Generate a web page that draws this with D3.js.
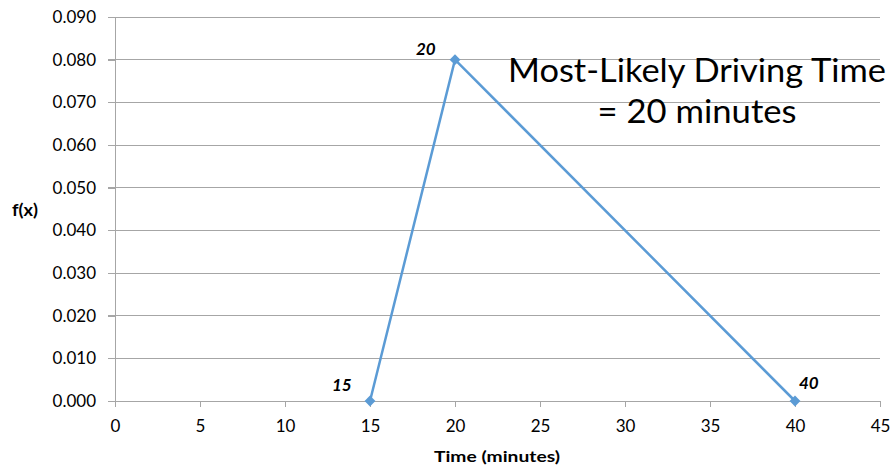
<!DOCTYPE html>
<html>
<head>
<meta charset="utf-8">
<script src="https://cdn.jsdelivr.net/npm/d3@7"></script>
<style>
  html, body { margin: 0; padding: 0; background: #fff; }
  svg { display: block; }
</style>
</head>
<body>
<svg id="chart" width="891" height="466"></svg>
<script>
// Triangular distribution of driving time
const timeValues = [15, 20, 40];
const densityValues = [0.000, 0.080, 0.000];
const pointLabels = ["15", "20", "40"];
const xTicks = [0, 5, 10, 15, 20, 25, 30, 35, 40, 45];
const yTicks = [0, 0.01, 0.02, 0.03, 0.04, 0.05, 0.06, 0.07, 0.08, 0.09];

const svg = d3.select("#chart");
const plotLeft = 115, plotRight = 880, plotTop = 17, plotBottom = 401;
const fontFam = "Lato, 'Open Sans', 'Liberation Sans', sans-serif";

const x = d3.scaleLinear().domain([0, 45]).range([plotLeft, plotRight]);
const y = d3.scaleLinear().domain([0, 0.09]).range([plotBottom, plotTop]);

// horizontal gridlines
svg.append("g")
  .selectAll("line")
  .data(yTicks)
  .join("line")
  .attr("x1", plotLeft - 7).attr("x2", plotRight)
  .attr("y1", d => y(d)).attr("y2", d => y(d))
  .attr("stroke", "#a6a6a6").attr("stroke-width", 1)
  .attr("shape-rendering", "crispEdges");

// y axis
const yAxis = svg.append("g")
  .attr("transform", `translate(${plotLeft},0)`)
  .call(d3.axisLeft(y).tickValues(yTicks).tickFormat(d3.format(".3f")).tickSize(7).tickPadding(12));
yAxis.select(".domain").attr("stroke", "#a6a6a6").attr("shape-rendering", "crispEdges");
yAxis.selectAll(".tick line").attr("stroke", "#a6a6a6").attr("shape-rendering", "crispEdges");
yAxis.selectAll("text").attr("font-family", fontFam).attr("font-size", 17).attr("fill", "#000");

// x axis
const xAxis = svg.append("g")
  .attr("transform", `translate(0,${plotBottom})`)
  .call(d3.axisBottom(x).tickValues(xTicks).tickFormat(d3.format("d")).tickSize(6).tickPadding(13));
xAxis.select(".domain").attr("stroke", "#a6a6a6").attr("shape-rendering", "crispEdges");
xAxis.selectAll(".tick line").attr("stroke", "#a6a6a6").attr("shape-rendering", "crispEdges");
xAxis.selectAll("text").attr("font-family", fontFam).attr("font-size", 17).attr("fill", "#000");

// axis titles
svg.append("text")
  .attr("x", 497).attr("y", 462)
  .attr("text-anchor", "middle")
  .attr("font-family", fontFam).attr("font-size", 16).attr("font-weight", "bold")
  .attr("textLength", 126).attr("lengthAdjust", "spacingAndGlyphs")
  .text("Time (minutes)");
svg.append("text")
  .attr("x", 25).attr("y", 216)
  .attr("text-anchor", "middle")
  .attr("font-family", fontFam).attr("font-size", 17).attr("font-weight", "bold")
  .attr("textLength", 26).attr("lengthAdjust", "spacingAndGlyphs")
  .text("f(x)");

// density line
const pts = timeValues.map((t, i) => ({ t, f: densityValues[i], label: pointLabels[i] }));
svg.append("path")
  .datum(pts)
  .attr("fill", "none")
  .attr("stroke", "#5b9bd5")
  .attr("stroke-width", 2.5)
  .attr("d", d3.line().x(d => x(d.t)).y(d => y(d.f)));

// diamond markers
svg.append("g")
  .selectAll("path")
  .data(pts)
  .join("path")
  .attr("transform", d => `translate(${x(d.t)},${y(d.f)})`)
  .attr("d", d3.symbol(d3.symbolDiamond2, 75)())
  .attr("fill", "#5b9bd5");

// point labels
const labelOffsets = { "15": [-38, -10], "20": [-39, -5], "40": [4, -12] };
svg.append("g")
  .selectAll("text")
  .data(pts)
  .join("text")
  .attr("x", d => x(d.t) + labelOffsets[d.label][0])
  .attr("y", d => y(d.f) + labelOffsets[d.label][1])
  .attr("font-family", fontFam).attr("font-size", 17)
  .attr("font-weight", "bold").attr("font-style", "italic")
  .text(d => d.label);

// annotation
const note = svg.append("text")
  .attr("font-family", "Lato, 'Open Sans', sans-serif")
  .attr("font-size", 33).attr("fill", "#000")
  .attr("text-anchor", "middle");
note.append("tspan").attr("x", 697).attr("y", 82).attr("textLength", 378).attr("lengthAdjust", "spacingAndGlyphs").text("Most-Likely Driving Time");
note.append("tspan").attr("x", 697).attr("y", 123).attr("textLength", 199).attr("lengthAdjust", "spacingAndGlyphs").text("= 20 minutes");
</script>
</body>
</html>
